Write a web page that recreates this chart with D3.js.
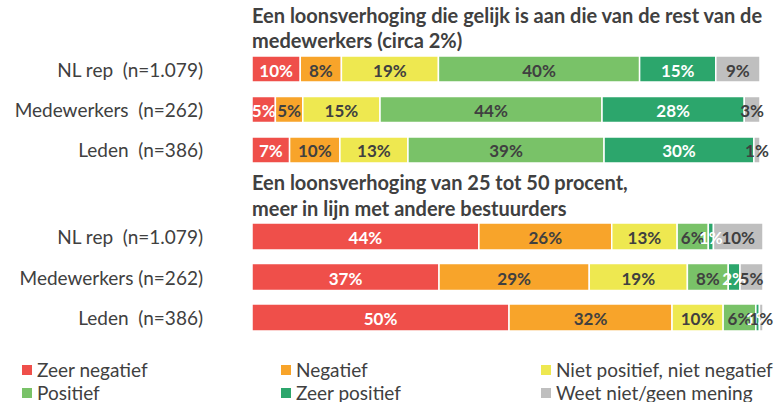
<!DOCTYPE html>
<html><head><meta charset="utf-8">
<script src="https://cdn.jsdelivr.net/npm/d3@7"></script>
<style>
body{margin:0;background:#fff;}
text{font-family:Lato,"Open Sans",sans-serif;}
</style></head>
<body><svg id="c" width="775" height="402"></svg>
<script>
const series = ["Zeer negatief","Negatief","Niet positief, niet negatief","Positief","Zeer positief","Weet niet/geen mening"];
const colors = ["#EF4F4A","#F8A42A","#EEE850","#79C268","#2CA66C","#BFBFBF"];
const labelColors = ["#fff","#404040","#404040","#404040","#fff","#404040"];

const title1 = ["Een loonsverhoging die gelijk is aan die van de rest van de","medewerkers (circa 2%)"];
const cats1 = ["NL rep \u00a0(n=1.079)","Medewerkers \u00a0(n=262)","Leden \u00a0(n=386)"];
const vals1 = [
  [9.5, 8.1, 19.1, 39.6, 15.0, 8.7],
  [4.6, 5.4, 15.2, 43.7, 28.0, 3.1],
  [7.4, 9.9, 13.4, 38.6, 29.5, 1.2]
];
const title2 = ["Een loonsverhoging van 25 tot 50 procent,","meer in lijn met andere bestuurders"];
const cats2 = ["NL rep \u00a0(n=1.079)","Medewerkers (n=262)","Leden \u00a0(n=386)"];
const vals2 = [
  [44.4, 26.0, 12.8, 6.1, 1.0, 9.7],
  [36.6, 29.4, 19.2, 8.0, 2.3, 4.5],
  [50.3, 31.9, 10.0, 6.4, 0.7, 0.7]
];

const svg = d3.select("#c");
const txt = "#404040";

function group(title, cats, vals, titleY, yRange, pad, xRange){
  const x = d3.scaleLinear().domain([0,100]).range(xRange);
  const y = d3.scaleBand().domain(cats).range(yRange).paddingInner(pad).paddingOuter(0);
  title.forEach((t,i)=>{
    svg.append("text").attr("x", xRange[0]).attr("y", titleY[i])
      .attr("font-size", 20).attr("font-weight", "bold").attr("fill", txt).text(t);
  });
  cats.forEach((c,ci)=>{
    svg.append("text").attr("x", 203).attr("y", y(c)+y.bandwidth()/2)
      .attr("text-anchor","end").attr("dominant-baseline","central")
      .attr("font-size", 19).attr("fill", txt).text(c);
    let cum = 0;
    const segs = vals[ci].map((v,si)=>{const s={v,si,x0:cum}; cum+=v; return s;});
    const g = svg.append("g");
    g.selectAll("rect").data(segs).join("rect")
      .attr("x", d=>x(d.x0)).attr("y", y(c))
      .attr("width", d=>x(d.x0+d.v)-x(d.x0)).attr("height", y.bandwidth())
      .attr("fill", d=>colors[d.si]).attr("stroke","#fff").attr("stroke-width",1.5);
    g.selectAll("text").data(segs).join("text")
      .attr("x", d=>(x(d.x0)+x(d.x0+d.v))/2).attr("y", y(c)+y.bandwidth()/2+1)
      .attr("text-anchor","middle").attr("dominant-baseline","central")
      .attr("font-size", 17).attr("font-weight","bold")
      .attr("fill", d=>labelColors[d.si]).text(d=>Math.round(d.v)+"%");
  });
}

group(title1, cats1, vals1, [23,48], [56,163], 0.358, [252,760]);
group(title2, cats2, vals2, [190,216], [223,331], 0.333, [252,763]);

// legend
const legX = [22,281,541];
const legY = [377,400];
series.forEach((s,i)=>{
  const col = i%3, row = Math.floor(i/3);
  svg.append("rect").attr("x", legX[col]).attr("y", legY[row]-12).attr("width",10).attr("height",10).attr("fill", colors[i]);
  svg.append("text").attr("x", legX[col]+15).attr("y", legY[row])
    .attr("font-size", 19).attr("fill", txt).text(s);
});
</script></body></html>
